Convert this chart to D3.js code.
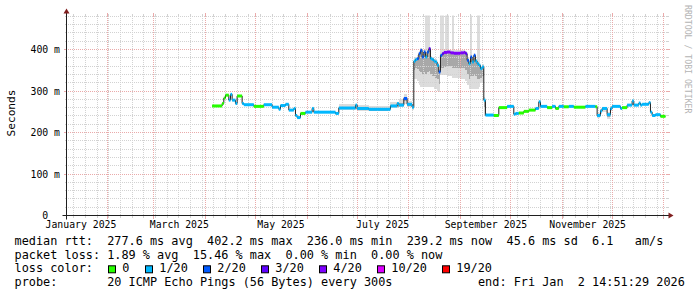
<!DOCTYPE html>
<html>
<head>
<meta charset="utf-8">
<script src="https://cdn.jsdelivr.net/npm/d3@7"></script>
<style>
body { margin: 0; background: #fff; }
svg { display: block; font-family: "DejaVu Sans Mono", monospace; }
text { white-space: pre; }
</style>
</head>
<body>
<div id="chart-area"></div>
<script>
const chartSize = { width: 697, height: 297 };
const plot = { left: 66.5, right: 666.5, top: 15.5, bottom: 215.5 };
const timeStart = "2025-01-07T14:51:29";
const timeEnd = "2026-01-02T14:51:29";
const yMax = 482;
const yTicks = [0, 100, 200, 300, 400];
const monthLabelDays = ["2025-01-16", "2025-03-16", "2025-05-16", "2025-07-16", "2025-09-16", "2025-11-16"];

const lossLabels = ["0", "1/20", "2/20", "3/20", "4/20", "10/20", "19/20"];
const lossColors = ["#26ff00", "#00b8ff", "#0059ff", "#5e00ff", "#7e00ff", "#dd00ff", "#ff0000"];

const statLines = [
    "median rtt:  277.6 ms avg  402.2 ms max  236.0 ms min  239.2 ms now  45.6 ms sd  6.1   am/s",
    "packet loss: 1.89 % avg  15.46 % max  0.00 % min  0.00 % now"
];
const lossTitle = "loss color:";
const probeLine = "probe:       20 ICMP Echo Pings (56 Bytes) every 300s            end: Fri Jan  2 14:51:29 2026";
const yLabel = "Seconds";
const watermark = "RRDTOOL / TOBI OETIKER";

// [day, median ms, loss colour index]
const medianRtt = [
    ["2025-04-05", 264, 0], ["2025-04-11", 270, 0], ["2025-04-12", 283, 0], ["2025-04-13", 290, 0],
    ["2025-04-15", 278, 1], ["2025-04-16", 292, 1], ["2025-04-17", 278, 1], ["2025-04-19", 270, 1],
    ["2025-04-20", 288, 0], ["2025-04-23", 270, 1], ["2025-04-24", 267, 1], ["2025-04-30", 263, 0],
    ["2025-05-06", 267, 1], ["2025-05-11", 261, 1], ["2025-05-15", 256, 1], ["2025-05-16", 265, 1],
    ["2025-05-19", 268, 1], ["2025-05-21", 254, 1], ["2025-05-24", 258, 1], ["2025-05-25", 241, 1],
    ["2025-05-26", 236, 1], ["2025-05-28", 246, 0], ["2025-05-31", 249, 1], ["2025-06-04", 258, 1],
    ["2025-06-05", 249, 1], ["2025-06-18", 246, 1], ["2025-06-20", 259, 1], ["2025-06-30", 266, 1],
    ["2025-07-01", 258, 1], ["2025-07-08", 256, 1], ["2025-07-21", 264, 1], ["2025-07-25", 270, 1],
    ["2025-07-26", 266, 1], ["2025-07-29", 282, 2], ["2025-07-31", 268, 1], ["2025-08-03", 261, 1],
    ["2025-08-04", 372, 1], ["2025-08-05", 376, 1], ["2025-08-06", 378, 2], ["2025-08-07", 390, 2],
    ["2025-08-08", 398, 2], ["2025-08-09", 382, 2], ["2025-08-10", 394, 2], ["2025-08-11", 382, 1],
    ["2025-08-12", 394, 2], ["2025-08-13", 402, 3], ["2025-08-14", 378, 1], ["2025-08-15", 376, 1],
    ["2025-08-16", 372, 1], ["2025-08-17", 370, 1], ["2025-08-18", 362, 1], ["2025-08-19", 346, 2],
    ["2025-08-20", 386, 2], ["2025-08-21", 390, 3], ["2025-08-22", 393, 4], ["2025-08-24", 394, 4],
    ["2025-08-26", 392, 4], ["2025-08-28", 391, 4], ["2025-08-30", 391, 4], ["2025-09-01", 392, 4],
    ["2025-09-03", 393, 4], ["2025-09-04", 390, 3], ["2025-09-05", 374, 2], ["2025-09-06", 366, 1],
    ["2025-09-07", 382, 2], ["2025-09-08", 370, 1], ["2025-09-09", 386, 2], ["2025-09-10", 372, 1],
    ["2025-09-11", 366, 1], ["2025-09-12", 362, 1], ["2025-09-13", 354, 1], ["2025-09-14", 358, 1],
    ["2025-09-15", 278, 1], ["2025-09-16", 242, 1], ["2025-09-21", 241, 0], ["2025-09-24", 260, 0],
    ["2025-09-29", 263, 1], ["2025-10-03", 244, 1], ["2025-10-04", 246, 1], ["2025-10-06", 247, 0],
    ["2025-10-09", 251, 0], ["2025-10-12", 254, 0], ["2025-10-16", 258, 1], ["2025-10-18", 274, 1],
    ["2025-10-19", 263, 1], ["2025-10-23", 260, 0], ["2025-10-26", 263, 1], ["2025-10-28", 258, 0],
    ["2025-10-30", 263, 1], ["2025-11-02", 262, 0], ["2025-11-05", 263, 1], ["2025-11-08", 261, 0],
    ["2025-11-15", 263, 1], ["2025-11-21", 262, 0], ["2025-11-22", 241, 1], ["2025-11-24", 252, 1],
    ["2025-11-25", 258, 1], ["2025-11-28", 243, 1], ["2025-11-30", 258, 1], ["2025-12-01", 263, 1],
    ["2025-12-06", 258, 1], ["2025-12-07", 260, 0], ["2025-12-10", 266, 1], ["2025-12-13", 276, 1],
    ["2025-12-14", 266, 1], ["2025-12-17", 271, 1], ["2025-12-18", 266, 1], ["2025-12-19", 268, 1],
    ["2025-12-23", 272, 1], ["2025-12-24", 249, 1], ["2025-12-25", 241, 1], ["2025-12-27", 243, 1],
    ["2025-12-30", 239, 0], ["2026-01-02", 239, 0]
];

// [day, min, inner low, inner high, max]  (null row closes a run)
const smokeRtt = [
    ["2025-06-20", 255, 257, 262, 268], ["2025-07-01", 253, 255, 260, 267], ["2025-07-08", 251, 253, 259, 265],
    ["2025-07-21", 259, 261, 267, 273], ["2025-07-26", 261, 263, 270, 280], ["2025-07-29", 268, 275, 286, 293],
    ["2025-07-31", 262, 265, 271, 277], ["2025-08-03", 255, 258, 263, 268],
    ["2025-08-04", 330, 350, 375, 380], ["2025-08-05", 330, 355, 378, 382], ["2025-08-06", 325, 352, 380, 386],
    ["2025-08-07", 315, 348, 392, 396], ["2025-08-08", 309, 345, 400, 404], ["2025-08-09", 309, 340, 384, 390],
    ["2025-08-10", 309, 345, 396, 400], ["2025-08-11", 309, 342, 386, 500], ["2025-08-12", 309, 345, 396, 500],
    ["2025-08-13", 309, 348, 404, 500], ["2025-08-14", 309, 340, 380, 384], ["2025-08-15", 309, 335, 378, 382],
    ["2025-08-16", 305, 335, 374, 378], ["2025-08-17", 305, 332, 372, 376], ["2025-08-18", 300, 330, 364, 368],
    ["2025-08-19", 297, 318, 348, 352], ["2025-08-20", 338, 355, 388, 500], ["2025-08-21", 338, 355, 392, 500],
    ["2025-08-22", 338, 358, 395, 400], ["2025-08-23", 338, 358, 396, 500], ["2025-08-24", 336, 360, 396, 500],
    ["2025-08-25", 336, 360, 394, 400], ["2025-08-27", 332, 356, 394, 500], ["2025-08-28", 332, 355, 393, 398],
    ["2025-09-01", 330, 356, 394, 398], ["2025-09-04", 325, 350, 392, 396], ["2025-09-05", 315, 340, 376, 380],
    ["2025-09-06", 305, 330, 368, 372], ["2025-09-07", 305, 335, 384, 500], ["2025-09-08", 305, 335, 372, 376],
    ["2025-09-09", 305, 340, 388, 392], ["2025-09-10", 305, 335, 374, 378], ["2025-09-11", 305, 330, 368, 500],
    ["2025-09-12", 310, 330, 364, 500], ["2025-09-13", 320, 332, 356, 360], ["2025-09-14", 320, 335, 360, 364],
    ["2025-09-15", 240, 262, 280, 285], ["2025-09-16", 240, 241, 244, 246], ["2025-09-17", null, null, null, null],
    ["2025-11-21", 260, 261, 264, 266], ["2025-11-22", 234, 238, 243, 247], ["2025-11-24", 245, 249, 254, 257],
    ["2025-11-25", 250, 254, 259, 262], ["2025-11-28", 232, 238, 245, 250], ["2025-11-30", 252, 255, 260, 263],
    ["2025-12-01", null, null, null, null]
];

const parseDay = d3.timeParse("%Y-%m-%d");
const parseTime = d3.timeParse("%Y-%m-%dT%H:%M:%S");
const x = d3.scaleTime().domain([parseTime(timeStart), parseTime(timeEnd)]).range([plot.left, plot.right]);
const y = d3.scaleLinear().domain([0, yMax]).range([plot.bottom, plot.top]);
const crisp = v => Math.floor(v) + 0.5;

const colors = { minor: "#d2d2d2", major: "#eaaaaa", axis: "#1f1f1f", arrow: "#801f1f" };

const drawSmoke = function(g, rows) {
    const spans = rows.slice(0, -1).map((r, i) => ({ r, next: rows[i + 1] })).filter(s => s.r[1] !== null);
    const band = (cls, fill, lo, hi) => g.append("g").attr("class", cls)
        .selectAll("rect").data(spans).join("rect")
        .attr("x", s => x(parseDay(s.r[0])))
        .attr("width", s => x(parseDay(s.next[0])) - x(parseDay(s.r[0])))
        .attr("y", s => y(s.r[hi]))
        .attr("height", s => y(s.r[lo]) - y(s.r[hi]))
        .attr("fill", fill)
        .attr("shape-rendering", "crispEdges");
    band("smoke-outer", "#dcdcdc", 1, 4);
    band("smoke-inner", "#a8a8a8", 2, 3);
};

const drawGrid = function(g) {
    const [t0, t1] = x.domain();
    const majorX = d3.timeMonth.range(t0, t1);
    const minorX = d3.timeSunday.range(t0, t1);
    const majorY = d3.range(100, yMax, 100);
    const minorY = d3.range(20, yMax, 20).filter(v => v % 100 !== 0);
    g.attr("shape-rendering", "crispEdges");
    const vLines = (data, color, tick) => {
        const sel = g.append("g").selectAll("g").data(data).join("g")
            .attr("transform", d => `translate(${crisp(x(d))},0)`);
        sel.append("line").attr("y1", plot.bottom - 1).attr("y2", plot.top)
            .attr("stroke", color).attr("stroke-dasharray", "1,1");
        sel.append("line").attr("y1", plot.bottom).attr("y2", plot.bottom + tick).attr("stroke", color);
        sel.append("line").attr("y1", plot.top - tick).attr("y2", plot.top).attr("stroke", color);
    };
    const hLines = (data, color, tick) => {
        const sel = g.append("g").selectAll("g").data(data).join("g")
            .attr("transform", d => `translate(0,${crisp(y(d))})`);
        sel.append("line").attr("x1", plot.left + 1).attr("x2", plot.right)
            .attr("stroke", color).attr("stroke-dasharray", "1,1");
        sel.append("line").attr("x1", plot.left - tick).attr("x2", plot.left).attr("stroke", color);
        sel.append("line").attr("x1", plot.right).attr("x2", plot.right + tick).attr("stroke", color);
    };
    vLines(minorX, colors.minor, 2);
    hLines(minorY, colors.minor, 2);
    vLines(majorX, colors.major, 3);
    hLines(majorY, colors.major, 3);
};

const drawMedian = function(g, rows) {
    const pts = rows.map(([day, value, loss]) => ({ date: parseDay(day), value, loss }));
    const line = d3.line().x(d => x(d.date)).y(d => y(d.value)).curve(d3.curveStepAfter);
    g.append("path").attr("d", line(pts)).attr("fill", "none").attr("stroke", "#202020").attr("stroke-width", 1);
    g.append("g").selectAll("rect").data(pts.slice(0, -1)).join("rect")
        .attr("x", (d, i) => x(d.date))
        .attr("width", (d, i) => x(pts[i + 1].date) - x(d.date))
        .attr("y", d => y(d.value) - 1.5)
        .attr("height", 3)
        .attr("fill", d => lossColors[d.loss]);
};

const drawAxes = function(svg) {
    const yAxis = d3.axisLeft(y).tickValues(yTicks).tickSize(0).tickPadding(6.5)
        .tickFormat(v => v === 0 ? "0\u00a0\u00a0" : `${v} m`);
    svg.append("g").attr("transform", `translate(${plot.left},0)`).call(yAxis)
        .call(a => a.select(".domain").remove())
        .selectAll("text").attr("font-family", "DejaVu Sans Mono").attr("font-size", 9.8).attr("fill", "#000");
    const xAxis = d3.axisBottom(x).tickValues(monthLabelDays.map(parseDay)).tickSize(0).tickPadding(5.5)
        .tickFormat(d3.timeFormat("%B %Y"));
    svg.append("g").attr("transform", `translate(0,${plot.bottom})`).call(xAxis)
        .call(a => a.select(".domain").remove())
        .selectAll("text").attr("font-family", "DejaVu Sans Mono").attr("font-size", 9.8).attr("fill", "#000");

    svg.append("line").attr("x1", plot.left - 4).attr("x2", plot.right + 4)
        .attr("y1", plot.bottom).attr("y2", plot.bottom).attr("stroke", colors.axis);
    svg.append("line").attr("x1", plot.left).attr("x2", plot.left)
        .attr("y1", plot.bottom + 4).attr("y2", plot.top - 4).attr("stroke", colors.axis);
    svg.append("path").attr("fill", colors.arrow)
        .attr("d", `M${plot.right + 2},${plot.bottom - 3}L${plot.right + 2},${plot.bottom + 3}L${plot.right + 7},${plot.bottom}Z`);
    svg.append("path").attr("fill", colors.arrow)
        .attr("d", `M${plot.left - 3},${plot.top - 2}L${plot.left + 3},${plot.top - 2}L${plot.left},${plot.top - 7}Z`);

    svg.append("text").text(yLabel).attr("font-size", 11.2).attr("text-anchor", "middle")
        .attr("transform", "translate(15,113) rotate(-90)");
    svg.append("text").text(watermark).attr("font-size", 8.2).attr("fill", "#b4b4b4")
        .attr("transform", "translate(685,5) rotate(90)");
};

const drawLegend = function(svg) {
    const fontSize = 11.85;
    const x0 = 14.5;
    const rowY = i => 245 + i * 13.65;
    const probe = svg.append("text").attr("font-size", fontSize).text("0123456789");
    const charW = probe.node().getComputedTextLength() / 10;
    probe.remove();
    statLines.forEach((s, i) => svg.append("text").attr("x", x0).attr("y", rowY(i)).attr("font-size", fontSize).text(s));
    svg.append("text").attr("x", x0).attr("y", rowY(2)).attr("font-size", fontSize).text(lossTitle);
    svg.append("text").attr("x", x0).attr("y", rowY(3)).attr("font-size", fontSize).text(probeLine);
    let cursor = x0 + 13 * charW + 1;
    lossLabels.forEach((label, i) => {
        const boxLeft = Math.round(cursor);
        svg.append("rect").attr("x", boxLeft + 0.5).attr("y", rowY(2) - 6.5).attr("width", 7).attr("height", 7)
            .attr("fill", lossColors[i]).attr("stroke", "#000");
        const tx = boxLeft + 2 * charW;
        svg.append("text").attr("x", tx).attr("y", rowY(2)).attr("font-size", fontSize).text(label);
        cursor = tx + label.length * charW + 2 * charW + 1;
    });
};

const main = () => {
    const svg = d3.select("#chart-area").append("svg")
        .attr("width", chartSize.width).attr("height", chartSize.height);
    svg.append("rect").attr("width", chartSize.width).attr("height", chartSize.height).attr("fill", "#fff");
    svg.append("clipPath").attr("id", "plot-clip").append("rect")
        .attr("x", plot.left).attr("y", plot.top).attr("width", plot.right - plot.left).attr("height", plot.bottom - plot.top);
    const dataG = svg.append("g").attr("clip-path", "url(#plot-clip)");
    drawSmoke(dataG, smokeRtt);
    drawGrid(svg.append("g").attr("class", "grid"));
    drawMedian(svg.append("g").attr("clip-path", "url(#plot-clip)"), medianRtt);
    drawAxes(svg);
    drawLegend(svg);
};
window.onload = main;
</script>
</body>
</html>
